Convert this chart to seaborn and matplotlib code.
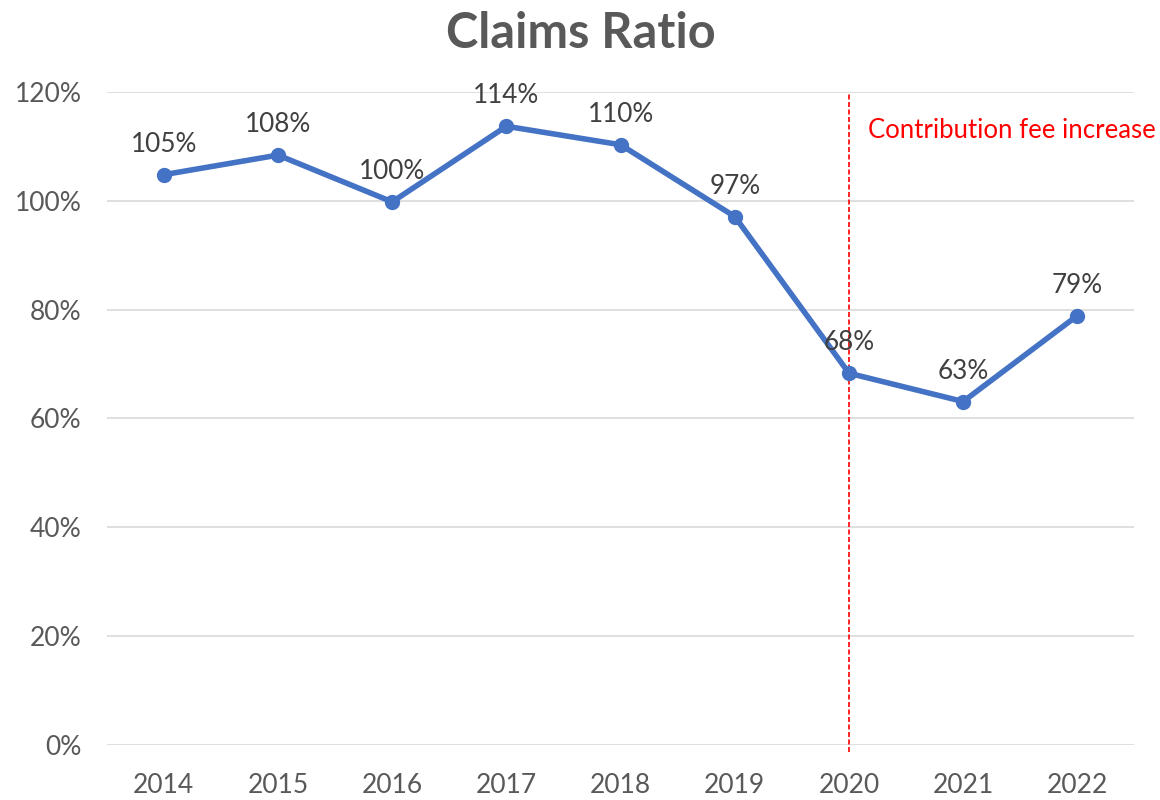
import matplotlib.pyplot as plt
import seaborn as sns
import pandas as pd
from matplotlib.ticker import FuncFormatter

years = ['2014', '2015', '2016', '2017', '2018', '2019', '2020', '2021', '2022']
ratio = [104.8, 108.4, 99.8, 113.7, 110.3, 97.1, 68.3, 63.1, 78.9]
labels = ['105%', '108%', '100%', '114%', '110%', '97%', '68%', '63%', '79%']
event_year = '2020'
event_text = 'Contribution fee increase'

df = pd.DataFrame({'Year': years, 'Ratio': ratio})

sns.set_style('white')
plt.rcParams['font.family'] = ['Lato', 'DejaVu Sans']

fig, ax = plt.subplots(figsize=(11.6, 8), dpi=100)
fig.subplots_adjust(left=0.092, right=0.978, top=0.885, bottom=0.069)

sns.pointplot(data=df, x='Year', y='Ratio', color='#4472C4', ax=ax,
              markers='o', markersize=8, linewidth=4)

for i, (v, t) in enumerate(zip(ratio, labels)):
    ax.text(i, v + 3.3, t, ha='center', va='bottom', fontsize=18.8, color='#404040')

xi = years.index(event_year)
ax.plot([xi, xi], [-1.3, 120], color='#FF0000', linestyle=(0, (3, 1.5)), linewidth=1.2,
        clip_on=False, zorder=1)
ax.text(xi + 0.17, 113, event_text, color='#FF0000', fontsize=18.5, ha='left', va='center')

ax.set_xlim(-0.5, len(years) - 0.5)
ax.set_ylim(0, 120)
ax.set_yticks(range(0, 121, 20))
ax.yaxis.set_major_formatter(FuncFormatter(lambda v, p: f'{int(v)}%'))
ax.grid(axis='y', color='#D9D9D9', linewidth=1.2)
ax.set_axisbelow(True)
for s in ax.spines.values():
    s.set_visible(False)
ax.tick_params(axis='both', length=0, labelsize=19, labelcolor='#595959')
ax.tick_params(axis='x', pad=20)
ax.tick_params(axis='y', pad=18)
ax.set_xlabel('')
ax.set_ylabel('')
# centre the title on the figure rather than on the axes
ax.set_title('Claims Ratio', fontsize=35, fontweight='bold', color='#595959', pad=32, x=0.461)

fig.savefig('out.png')
